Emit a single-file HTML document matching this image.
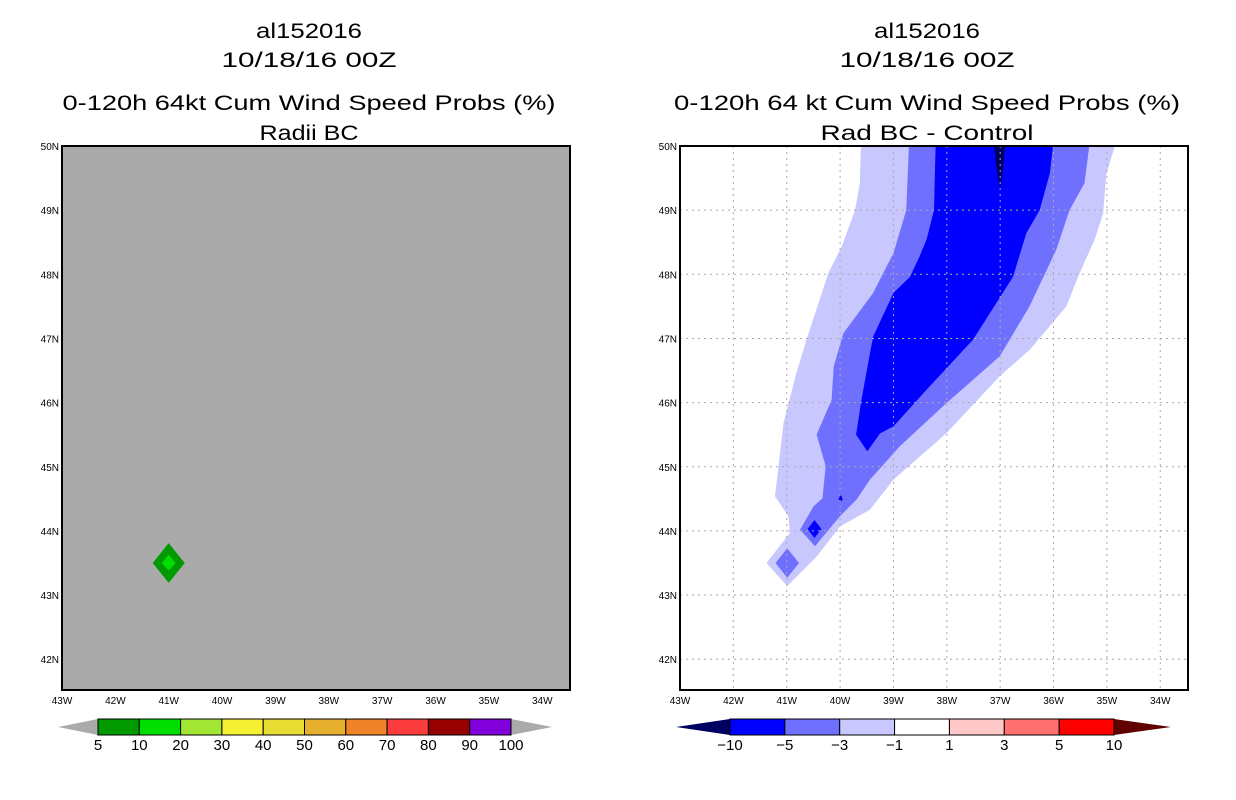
<!DOCTYPE html>
<html><head><meta charset="utf-8"><style>
html,body{margin:0;padding:0;background:#fff;}
svg{display:block;font-family:"Liberation Sans",sans-serif;}
</style></head><body>
<svg id="c" width="1236" height="800" viewBox="0 0 1236 800">
<g font-size="21" text-anchor="middle" fill="#000">
<text x="309" y="38" textLength="106" lengthAdjust="spacingAndGlyphs">al152016</text>
<text x="309" y="67" textLength="175" lengthAdjust="spacingAndGlyphs">10/18/16 00Z</text>
<text x="309" y="110" textLength="493" lengthAdjust="spacingAndGlyphs">0-120h 64kt Cum Wind Speed Probs (%)</text>
<text x="309" y="140" textLength="99" lengthAdjust="spacingAndGlyphs">Radii BC</text>
</g>
<g font-size="21" text-anchor="middle" fill="#000">
<text x="927" y="38" textLength="106" lengthAdjust="spacingAndGlyphs">al152016</text>
<text x="927" y="67" textLength="175" lengthAdjust="spacingAndGlyphs">10/18/16 00Z</text>
<text x="927" y="110" textLength="506" lengthAdjust="spacingAndGlyphs">0-120h 64 kt Cum Wind Speed Probs (%)</text>
<text x="927" y="140" textLength="213" lengthAdjust="spacingAndGlyphs">Rad BC - Control</text>
</g>
<g id="left"></g>
<g id="right"></g>
<g id="cbl"></g>
<g id="cbr"></g>
</svg>
<script>
const lonTicks=[-43,-42,-41,-40,-39,-38,-37,-36,-35,-34];
const latTicks=[42,43,44,45,46,47,48,49,50];
const leftLevels=["5","10","20","30","40","50","60","70","80","90","100"];
const leftColors=["#009900","#00dd00","#a0e632","#f5f032","#e6dc32","#e6af2d","#f08228","#fa3c3c","#960000","#8200dc"];
const rightLevels=["\u221210","\u22125","\u22123","\u22121","1","3","5","10"];
const rightColors=["#0000ff","#7070ff","#c8c8ff","#ffffff","#ffc8c8","#ff7070","#ff0000"];
const lightLon=[-39.61,-39.63,-39.72,-39.97,-40.22,-40.63,-40.82,-41.06,-41.22,-40.97,-40.94,-41.38,-40.99,-40.44,-40.00,-39.44,-39.00,-38.01,-37.01,-36.45,-35.76,-35.51,-35.23,-35.07,-35.01,-34.85];
const lightLat=[50,49.42,49.00,48.43,48.02,46.98,46.46,45.68,44.54,44.23,43.97,43.50,43.14,43.60,44.07,44.33,44.80,45.52,46.41,46.82,47.50,48.02,48.54,48.95,49.57,50];
const medLon=[-38.71,-38.76,-39.00,-39.38,-39.94,-40.12,-40.16,-40.44,-40.27,-40.33,-40.50,-40.75,-40.47,-40.00,-39.69,-39.44,-38.88,-38.01,-37.01,-36.45,-35.95,-35.70,-35.42,-35.33];
const medLat=[50,49.00,48.33,47.71,47.08,46.56,46.04,45.50,45.01,44.51,44.38,44.02,43.76,44.23,44.49,44.80,45.32,45.99,46.72,47.50,48.38,49.00,49.42,50];
const medDiamondLon=[-41.21,-40.99,-40.77,-40.99];
const medDiamondLat=[43.50,43.73,43.50,43.27];
const darkLon=[-38.21,-38.24,-38.38,-38.51,-38.69,-39.00,-39.38,-39.44,-39.60,-39.70,-39.49,-39.25,-39.00,-38.38,-37.51,-36.76,-36.51,-36.26,-36.07,-36.01];
const darkLat=[50,49.00,48.54,48.28,47.96,47.71,47.03,46.77,46.04,45.50,45.24,45.52,45.63,46.20,46.98,47.96,48.64,49.00,49.57,50];
const darkDiamondLon=[-40.61,-40.48,-40.35,-40.48];
const darkDiamondLat=[44.03,44.17,44.03,43.89];
const darkDotLon=[-40.03,-39.99,-39.95,-39.99];
const darkDotLat=[44.49,44.58,44.49,44.45];
const navyLon=[-37.11,-36.91,-36.93,-37.00,-37.09];
const navyLat=[50,50,49.78,49.31,49.78];
const probOuterLon=[-41.30,-41.00,-40.70,-41.00];
const probOuterLat=[43.50,43.81,43.50,43.19];
const probInnerLon=[-41.13,-41.00,-40.87,-41.00];
const probInnerLat=[43.50,43.63,43.50,43.38];

const NS='http://www.w3.org/2000/svg';
function mk(tag,attrs,parent){const e=document.createElementNS(NS,tag);for(const k in attrs)e.setAttribute(k,attrs[k]);parent.appendChild(e);return e;}
const W=508,H=544,LON0=-43,LON1=-33.48,LAT0=41.52,LAT1=50;
function xs(x0){return lon=>x0+(lon-LON0)/(LON1-LON0)*W;}
function ys(y0){return lat=>y0+(LAT1-lat)/(LAT1-LAT0)*H;}

function drawAxes(g,x0,y0,grid){
  const X=xs(x0),Y=ys(y0);
  if(grid){
    lonTicks.slice(1).forEach(l=>{const ln=mk('line',{x1:X(l),x2:X(l),y1:y0,y2:y0+H,stroke:'#aaa','stroke-dasharray':'2,4','stroke-width':1},g);
      });
    latTicks.forEach(l=>{const ln=mk('line',{x1:x0,x2:x0+W,y1:Y(l),y2:Y(l),stroke:'#aaa','stroke-dasharray':'2,4','stroke-width':1},g);
      });
  }
  const fr=mk('rect',{x:x0,y:y0,width:W,height:H,fill:'none',stroke:'#000','stroke-width':2},g);
  
  lonTicks.forEach(l=>{const t=mk('text',{x:X(l),y:y0+H+14,'font-size':10,'text-anchor':'middle'},g);
    t.textContent=Math.abs(l)+'W';
    });
  latTicks.forEach(l=>{const t=mk('text',{x:x0-3,y:Y(l)+4,'font-size':10,'text-anchor':'end'},g);
    t.textContent=l+'N';
    });
}
function poly(g,X,Y,lons,lats,fill,name){
  const p=mk('polygon',{points:lons.map((l,i)=>X(l)+','+Y(lats[i])).join(' '),fill:fill},g);
  
}
(function(){
  const g=document.getElementById('left'),x0=62,y0=146,X=xs(x0),Y=ys(y0);
  const bg=mk('rect',{x:x0,y:y0,width:W,height:H,fill:'#aaaaaa'},g);
  
  poly(g,X,Y,probOuterLon,probOuterLat,leftColors[0],'prob-5-10-area');
  poly(g,X,Y,probInnerLon,probInnerLat,leftColors[1],'prob-10-20-area');
  drawAxes(g,x0,y0,false);
})();
(function(){
  const g=document.getElementById('right'),x0=680,y0=146,X=xs(x0),Y=ys(y0);
  const cp=mk('clipPath',{id:'rc'},g);mk('rect',{x:x0,y:y0,width:W,height:H},cp);
  const c=mk('g',{'clip-path':'url(#rc)'},g);
  
  poly(c,X,Y,lightLon,lightLat,rightColors[2],'diff-minus1-minus3-area');
  poly(c,X,Y,medLon,medLat,rightColors[1],'diff-minus3-minus5-area');
  poly(c,X,Y,medDiamondLon,medDiamondLat,rightColors[1],'diff-minus3-diamond');
  poly(c,X,Y,darkLon,darkLat,rightColors[0],'diff-minus5-minus10-area');
  poly(c,X,Y,darkDiamondLon,darkDiamondLat,rightColors[0],'diff-minus5-diamond');
  poly(c,X,Y,darkDotLon,darkDotLat,rightColors[0],'diff-minus5-dot');
  poly(c,X,Y,navyLon,navyLat,'#000060','diff-below-minus10-area');
  drawAxes(g,x0,y0,true);
})();
function colorbar(g,x0,x1,tipL,tipR,colors,labels,lowC,highC){
  const y0=719,h=16,n=colors.length,w=(x1-x0)/n;
  const tl=mk('polygon',{points:`${tipL},${y0+h/2} ${x0},${y0} ${x0},${y0+h}`,fill:lowC},g);
  
  const tr=mk('polygon',{points:`${tipR},${y0+h/2} ${x1},${y0} ${x1},${y0+h}`,fill:highC},g);
  
  colors.forEach((c,i)=>{const r=mk('rect',{x:x0+i*w,y:y0,width:w,height:h,fill:c,stroke:'#000','stroke-width':1},g);
    });
  labels.forEach((l,i)=>{const t=mk('text',{x:x0+i*w,y:y0+h+15,'font-size':15,'text-anchor':'middle'},g);
    t.textContent=l;
    });
}
colorbar(document.getElementById('cbl'),98,511,58,552,leftColors,leftLevels,'#aaaaaa','#aaaaaa');
colorbar(document.getElementById('cbr'),730,1114,676,1171,rightColors,rightLevels,'#000060','#600000');
</script>
</body></html>
